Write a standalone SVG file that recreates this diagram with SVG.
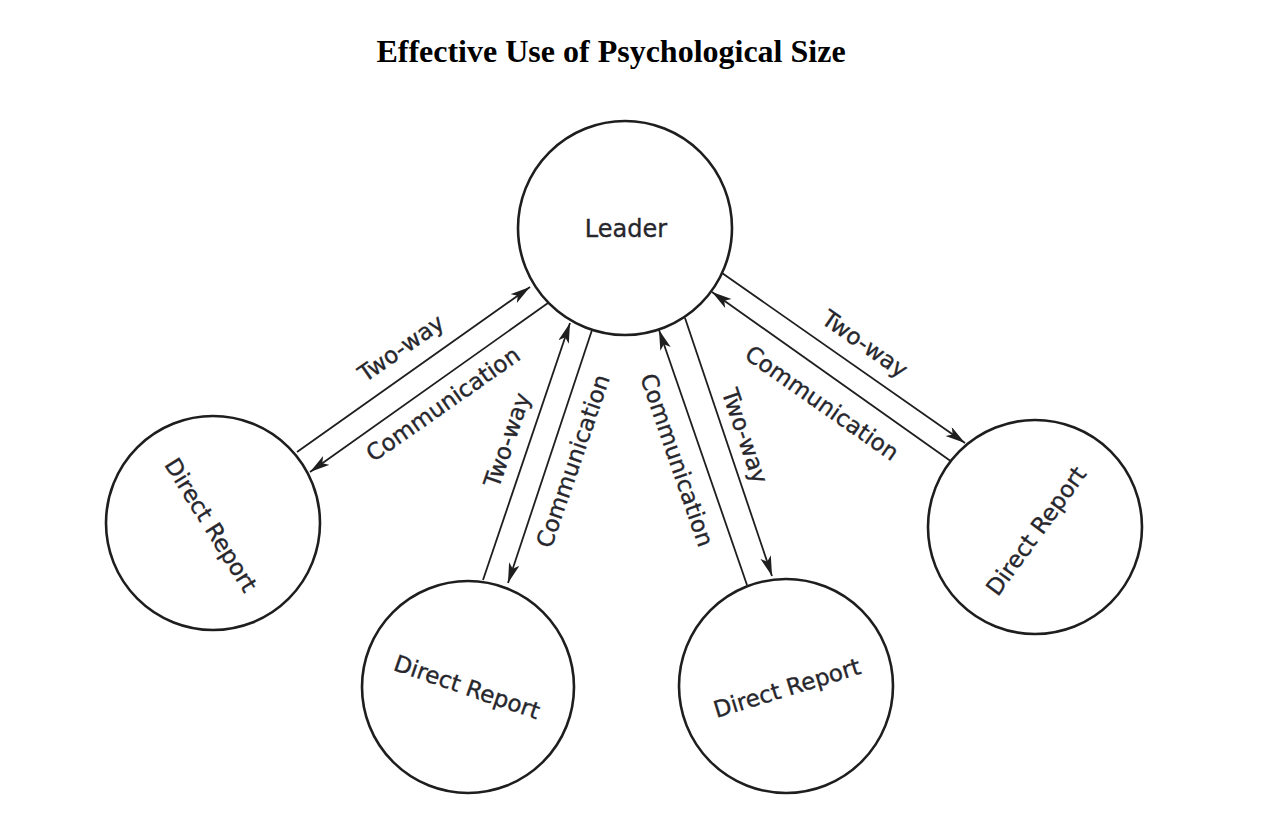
<svg xmlns="http://www.w3.org/2000/svg" width="1262" height="820" viewBox="0 0 1262 820">
  <style>
    .node { fill: #ffffff; stroke: #1e1e1e; stroke-width: 2.6; }
    .ntext { font-family: "DejaVu Sans", "Liberation Sans", sans-serif; font-size: 23px; fill: #26262c; stroke: #26262c; stroke-width: 0.35; text-anchor: middle; dominant-baseline: central; }
    .conn { stroke: #1e1e1e; stroke-width: 1.8; fill: none; }
    .ctext { font-family: "DejaVu Sans", "Liberation Sans", sans-serif; font-size: 23px; fill: #26262c; stroke: #26262c; stroke-width: 0.35; text-anchor: middle; dominant-baseline: central; }
    .title { font-family: "Liberation Serif", "Times New Roman", serif; font-size: 32px; font-weight: bold; fill: #000000; text-anchor: middle; }
  </style>
  <defs>
    <marker id="arrow" markerUnits="userSpaceOnUse" markerWidth="22" markerHeight="12" refX="20" refY="5.5" orient="auto">
      <path d="M0,0 L20,5.5 L0,11 L5,5.5 Z" fill="#1e1e1e"/>
    </marker>
  </defs>
  <rect width="1262" height="820" fill="#ffffff"/>
  <text class="title" x="611" y="62">Effective Use of Psychological Size</text>

  <g id="connectors">
    <line class="conn" x1="297" y1="452" x2="530" y2="287" marker-end="url(#arrow)"/>
    <line class="conn" x1="548" y1="303" x2="310" y2="472" marker-end="url(#arrow)"/>
    <line class="conn" x1="483" y1="580" x2="570" y2="323" marker-end="url(#arrow)"/>
    <line class="conn" x1="592" y1="330" x2="508" y2="583" marker-end="url(#arrow)"/>
    <line class="conn" x1="747" y1="585" x2="659" y2="330" marker-end="url(#arrow)"/>
    <line class="conn" x1="685" y1="318" x2="772" y2="576" marker-end="url(#arrow)"/>
    <line class="conn" x1="722" y1="273" x2="965" y2="443" marker-end="url(#arrow)"/>
    <line class="conn" x1="952" y1="462" x2="712" y2="292" marker-end="url(#arrow)"/>
  </g>

  <g id="connector-labels">
    <text class="ctext" transform="translate(401,348) rotate(-35)">Two-way</text>
    <text class="ctext" transform="translate(443,404) rotate(-35)">Communication</text>
    <text class="ctext" transform="translate(507,440) rotate(-71)">Two-way</text>
    <text class="ctext" transform="translate(573,461) rotate(-71)">Communication</text>
    <text class="ctext" transform="translate(677,460) rotate(71)">Communication</text>
    <text class="ctext" transform="translate(745,436) rotate(71)">Two-way</text>
    <text class="ctext" transform="translate(865,344) rotate(35)">Two-way</text>
    <text class="ctext" transform="translate(822,403) rotate(35)">Communication</text>
  </g>

  <g id="leader">
    <circle class="node" cx="625" cy="228" r="107"/>
    <text class="ntext" x="626" y="229" style="font-size:24px">Leader</text>
  </g>
  <g id="direct-report-1">
    <circle class="node" cx="213" cy="523" r="107"/>
    <text class="ntext" transform="translate(211,525) rotate(58)">Direct Report</text>
  </g>
  <g id="direct-report-2">
    <circle class="node" cx="468" cy="687" r="106"/>
    <text class="ntext" transform="translate(467,687) rotate(19)">Direct Report</text>
  </g>
  <g id="direct-report-3">
    <circle class="node" cx="786" cy="686" r="107"/>
    <text class="ntext" transform="translate(787,688) rotate(-17)">Direct Report</text>
  </g>
  <g id="direct-report-4">
    <circle class="node" cx="1035" cy="527" r="107"/>
    <text class="ntext" transform="translate(1036,531) rotate(-54)">Direct Report</text>
  </g>
</svg>
